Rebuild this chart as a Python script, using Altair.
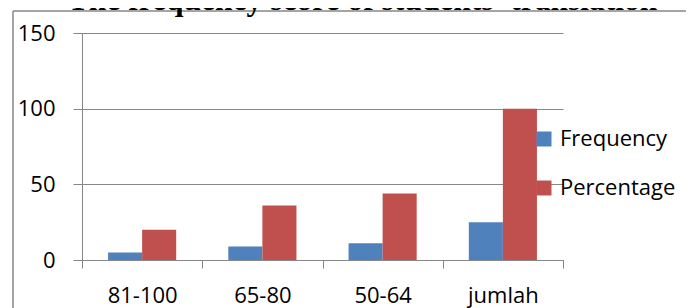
import altair as alt
import pandas as pd

categories = ["81-100", "65-80", "50-64", "jumlah"]
series = ["Frequency", "Percentage"]
frequency = [5, 9, 11, 25]
percentage = [20, 36, 44, 100]
y_ticks = [0, 50, 100, 150]
colors = ["#4F81BD", "#C0504D"]
title_text = "The frequency score of students' translation"

rows = []
for c, f, p in zip(categories, frequency, percentage):
    rows.append({"category": c, "series": "Frequency", "value": f})
    rows.append({"category": c, "series": "Percentage", "value": p})
df = pd.DataFrame(rows)

GRAY = "#878787"
FONT = "Open Sans"

bars = alt.Chart(df).mark_bar().encode(
    x=alt.X("category:N", sort=categories,
            scale=alt.Scale(paddingInner=0, paddingOuter=0),
            axis=alt.Axis(title=None, labelAngle=0, tickBand="extent", grid=False,
                          domainColor=GRAY, tickColor=GRAY, tickSize=8,
                          labelPadding=17, labelFont=FONT, labelFontSize=22,
                          labelColor="black")),
    xOffset=alt.XOffset("series:N", sort=series,
                        scale=alt.Scale(paddingInner=0, paddingOuter=0.765)),
    y=alt.Y("value:Q", scale=alt.Scale(domain=[0, 150]),
            axis=alt.Axis(title=None, values=y_ticks, grid=True, gridColor=GRAY,
                          domainColor=GRAY, tickColor=GRAY, tickSize=9,
                          labelPadding=18, labelFont=FONT, labelFontSize=22,
                          labelColor="black")),
    color=alt.Color("series:N", sort=series,
                    scale=alt.Scale(domain=series, range=colors),
                    legend=alt.Legend(title=None, orient="none", legendX=451, legendY=95,
                                      symbolType="square", symbolSize=225,
                                      symbolStrokeWidth=0, labelFont=FONT,
                                      labelFontSize=22, labelColor="black",
                                      labelOffset=5, rowPadding=27, padding=0)),
)

frame_top = alt.Chart(alt.Data(values=[{}])).mark_rule(color=GRAY, strokeWidth=1.5).encode(
    x=alt.value(-69), x2=alt.value(604), y=alt.value(-22)
)
frame_left = alt.Chart(alt.Data(values=[{}])).mark_rule(color=GRAY, strokeWidth=1.5).encode(
    x=alt.value(-69), y=alt.value(-22), y2=alt.value(275)
)

title = alt.Chart(alt.Data(values=[{"t": title_text}])).mark_text(
    font="Liberation Serif", fontSize=31.5, fontWeight="bold",
    baseline="alphabetic", align="center", color="black"
).encode(x=alt.value(280.5), y=alt.value(-23), text="t:N")

chart = alt.layer(frame_top, frame_left, bars, title).properties(
    width=481, height=227,
    padding={"left": 74, "top": 25, "right": 123, "bottom": 48},
    autosize=alt.AutoSizeParams(type="none"),
).configure_view(stroke=None)

chart.save("out.html", embed_options={"renderer": "svg", "actions": False})
